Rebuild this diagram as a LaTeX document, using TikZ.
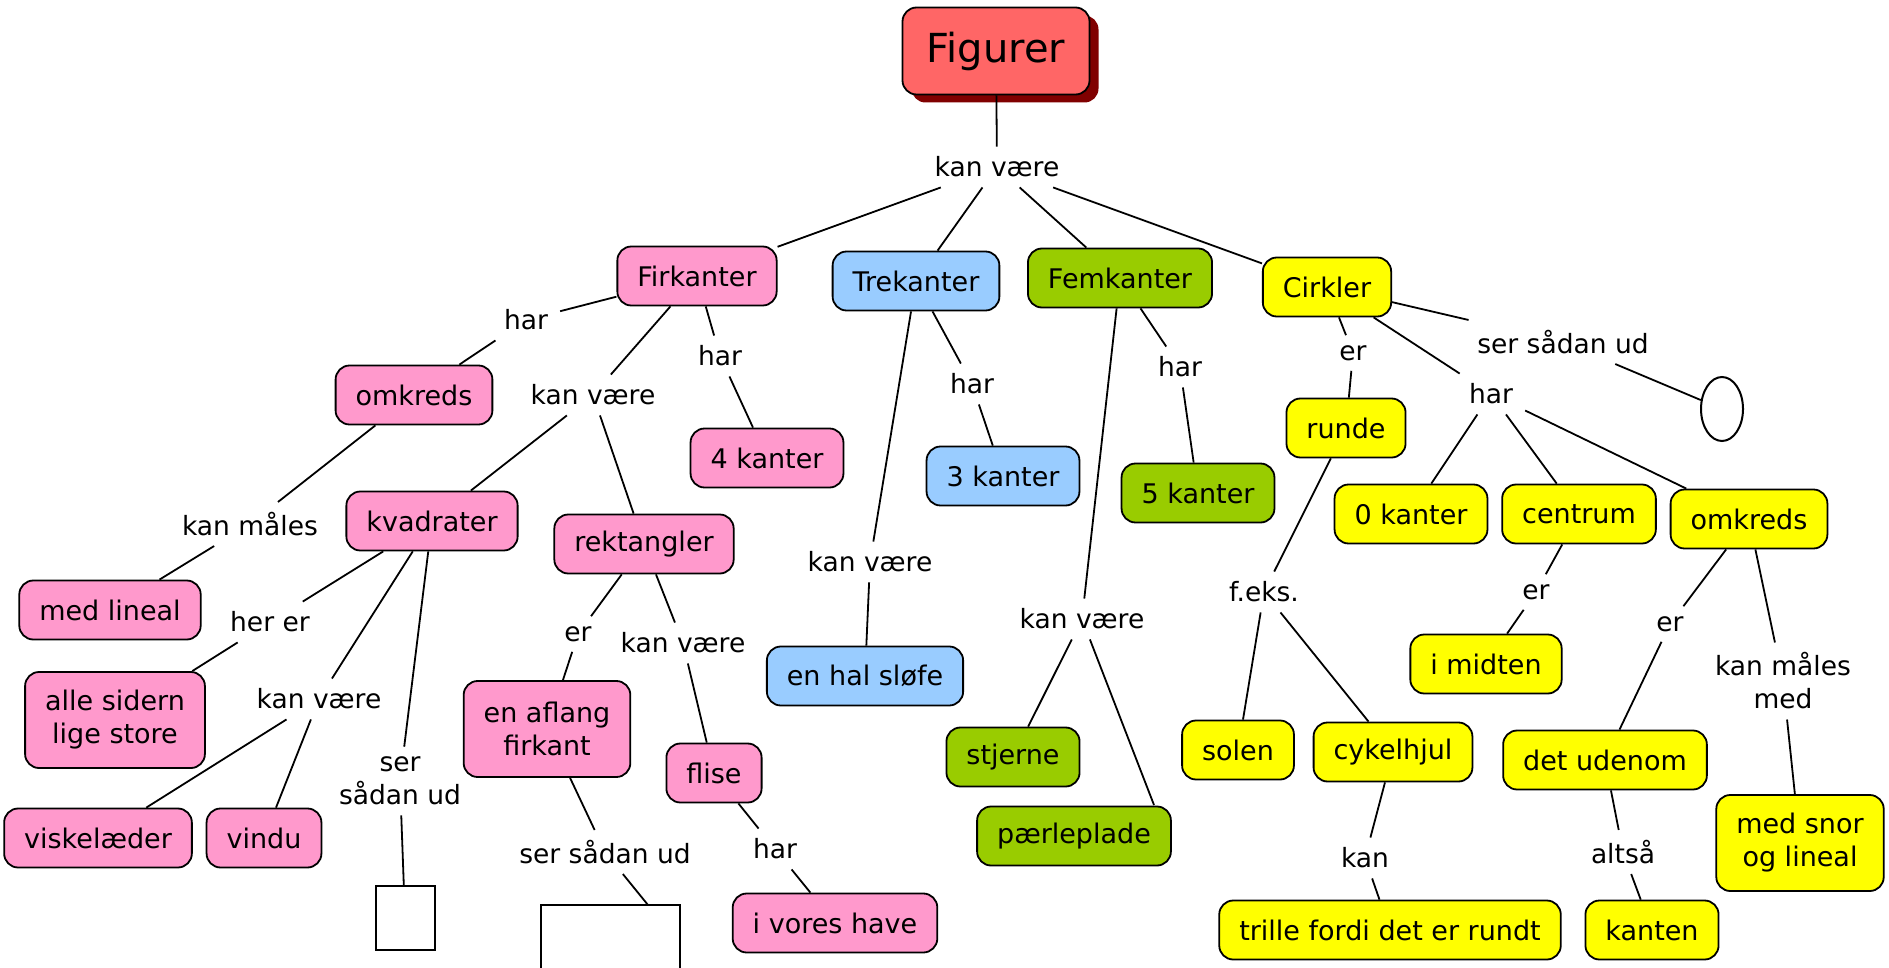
\documentclass[tikz,border=0pt]{standalone}
\usepackage{fontspec}
\setmainfont{DejaVu Sans}
\usetikzlibrary{shapes.geometric,shadows}
\definecolor{pinkc}{HTML}{FF99CC}
\definecolor{bluec}{HTML}{99CCFF}
\definecolor{greenc}{HTML}{99CC00}
\definecolor{yellowc}{HTML}{FFFF00}
\definecolor{redc}{HTML}{FF6666}
\definecolor{shadowc}{HTML}{800000}
\begin{document}
\begin{tikzpicture}[x=1pt,y=-1pt,
  box/.style={draw=black, line width=1.8pt, rounded corners=14pt, inner xsep=20pt, inner ysep=4pt,
    minimum height=59pt, align=center, font=\fontsize{27}{33}\selectfont},
  pk/.style={box, fill=pinkc},
  bl/.style={box, fill=bluec},
  gr/.style={box, fill=greenc},
  ye/.style={box, fill=yellowc},
  two/.style={minimum height=96pt},
  lbl/.style={inner xsep=12pt, inner ysep=10pt, align=center, font=\fontsize{26.5}{33}\selectfont},
  conn/.style={line width=1.8pt},
  shape box/.style={draw=black, line width=2pt, fill=white, inner sep=0pt}
]
\path[use as bounding box, clip] (0,0) rectangle (1889,968);
\fill[white] (0,0) rectangle (1889,968);

% main
\node[box, fill=redc, minimum width=187pt, minimum height=87pt, font=\fontsize{40}{48}\selectfont,
  drop shadow={shadow xshift=9pt, shadow yshift=-8pt, fill=shadowc, opacity=1}] (fig) at (996,51) {Figurer};
\node[lbl] (kv0) at (997,167) {kan være};

% level 1
\node[pk] (firk) at (697,276) {Firkanter};
\node[bl] (trek) at (916,281) {Trekanter};
\node[gr] (femk) at (1120,278) {Femkanter};
\node[ye] (cirk) at (1327,287) {Cirkler};

% Firkanter branch
\node[lbl] (har1) at (526,320) {har};
\node[lbl] (kv1) at (593,395) {kan være};
\node[lbl] (har2) at (720,356) {har};
\node[pk] (omk1) at (414,395) {omkreds};
\node[pk] (k4) at (767,458) {4 kanter};
\node[pk] (kvad) at (432,521) {kvadrater};
\node[pk] (rekt) at (644,544) {rektangler};
\node[lbl] (km1) at (250,524) {kan måles};
\node[pk] (medl) at (110,610) {med lineal};
\node[lbl] (herer) at (270,622) {her er};
\node[pk, two] (alle) at (115,720) {alle sidern\\lige store};
\node[lbl] (kv2) at (319,699) {kan være};
\node[pk] (visk) at (98,838) {viskelæder};
\node[pk] (vindu) at (264,838) {vindu};
\node[lbl] (ser1) at (400,781) {ser\\sådan ud};
\node[shape box, minimum width=59pt, minimum height=64pt] (sq1) at (405,918) {};
\node[lbl] (er1) at (578,634) {er};
\node[lbl] (kv3) at (683,643) {kan være};
\node[pk, two] (afl) at (547,729) {en aflang\\firkant};
\node[pk] (flise) at (714,773) {flise};
\node[lbl] (ser2) at (605,852) {ser sådan ud};
\node[lbl] (har3) at (775,849) {har};
\node[shape box, minimum width=139pt, minimum height=110pt] (sq2) at (610.5,960) {};
\coordinate (sq2top) at (648,905);
\node[pk] (have) at (835,923) {i vores have};

% Trekanter branch
\node[lbl] (har4) at (972,384) {har};
\node[bl] (k3) at (1003,476) {3 kanter};
\node[lbl] (kv4) at (870,562) {kan være};
\node[bl] (slofe) at (865,676) {en hal sløfe};

% Femkanter branch
\node[lbl] (har5) at (1180,367) {har};
\node[gr] (k5) at (1198,493) {5 kanter};
\node[lbl] (kv5) at (1082,619) {kan være};
\node[gr] (stj) at (1013,757) {stjerne};
\node[gr] (perle) at (1074,836) {pærleplade};
\coordinate (perletop) at (1154,805);

% Cirkler branch
\node[lbl] (er2) at (1353,353) {er};
\node[lbl] (ser3) at (1563,342) {ser sådan ud};
\node[lbl] (har6) at (1491,394) {har};
\node[ellipse, draw=black, line width=2pt, minimum width=42pt, minimum height=64pt, inner sep=0pt] (ell) at (1722,409) {};
\node[ye] (runde) at (1346,428) {runde};
\node[ye] (k0) at (1411,514) {0 kanter};
\node[ye] (centr) at (1579,514) {centrum};
\node[ye] (omk2) at (1749,519) {omkreds};
\node[lbl] (feks) at (1264,592) {f.eks.};
\node[lbl] (er3) at (1536,592) {er};
\node[lbl] (er4) at (1670,624) {er};
\node[lbl] (km2) at (1783,681) {kan måles\\med};
\node[ye] (midt) at (1486,664) {i midten};
\node[ye] (solen) at (1238,750) {solen};
\node[ye] (cykel) at (1393,752) {cykelhjul};
\node[ye] (uden) at (1605,760) {det udenom};
\node[ye, two] (snor) at (1800,843) {med snor\\og lineal};
\node[lbl] (kan) at (1365,858) {kan};
\node[lbl] (altsa) at (1623,852) {altså};
\node[ye] (trille) at (1390,930) {trille fordi det er rundt};
\node[ye] (kanten) at (1652,930) {kanten};

% connectors
\draw[conn] (fig) -- (kv0);
\draw[conn] (kv0) -- (firk);
\draw[conn] (kv0) -- (trek);
\draw[conn] (kv0) -- (femk);
\draw[conn] (kv0) -- (cirk);

\draw[conn] (firk) -- (har1);
\draw[conn] (har1) -- (omk1);
\draw[conn] (firk) -- (kv1);
\draw[conn] (kv1) -- (kvad);
\draw[conn] (kv1) -- (rekt);
\draw[conn] (firk) -- (har2);
\draw[conn] (har2) -- (k4);
\draw[conn] (omk1) -- (km1);
\draw[conn] (km1) -- (medl);
\draw[conn] (kvad) -- (herer);
\draw[conn] (herer) -- (alle);
\draw[conn] (kvad) -- (kv2);
\draw[conn] (kv2) -- (visk);
\draw[conn] (kv2) -- (vindu);
\draw[conn] (kvad) -- (ser1);
\draw[conn] (ser1) -- (sq1);
\draw[conn] (rekt) -- (er1);
\draw[conn] (er1) -- (afl);
\draw[conn] (rekt) -- (kv3);
\draw[conn] (kv3) -- (flise);
\draw[conn] (afl) -- (ser2);
\draw[conn] (ser2) -- (sq2top);
\draw[conn] (flise) -- (har3);
\draw[conn] (har3) -- (have);

\draw[conn] (trek) -- (har4);
\draw[conn] (har4) -- (k3);
\draw[conn] (trek) -- (kv4);
\draw[conn] (kv4) -- (slofe);

\draw[conn] (femk) -- (har5);
\draw[conn] (har5) -- (k5);
\draw[conn] (femk) -- (kv5);
\draw[conn] (kv5) -- (stj);
\draw[conn] (kv5) -- (perletop);

\draw[conn] (cirk) -- (er2);
\draw[conn] (er2) -- (runde);
\draw[conn] (cirk) -- (ser3);
\draw[conn] (ser3) -- (ell);
\draw[conn] (cirk) -- (har6);
\draw[conn] (har6) -- (k0);
\draw[conn] (har6) -- (centr);
\draw[conn] (har6) -- (omk2);
\draw[conn] (runde) -- (feks);
\draw[conn] (feks) -- (solen);
\draw[conn] (feks) -- (cykel);
\draw[conn] (cykel) -- (kan);
\draw[conn] (kan) -- (trille);
\draw[conn] (centr) -- (er3);
\draw[conn] (er3) -- (midt);
\draw[conn] (omk2) -- (er4);
\draw[conn] (er4) -- (uden);
\draw[conn] (omk2) -- (km2);
\draw[conn] (km2) -- (snor);
\draw[conn] (uden) -- (altsa);
\draw[conn] (altsa) -- (kanten);
\end{tikzpicture}
\end{document}
